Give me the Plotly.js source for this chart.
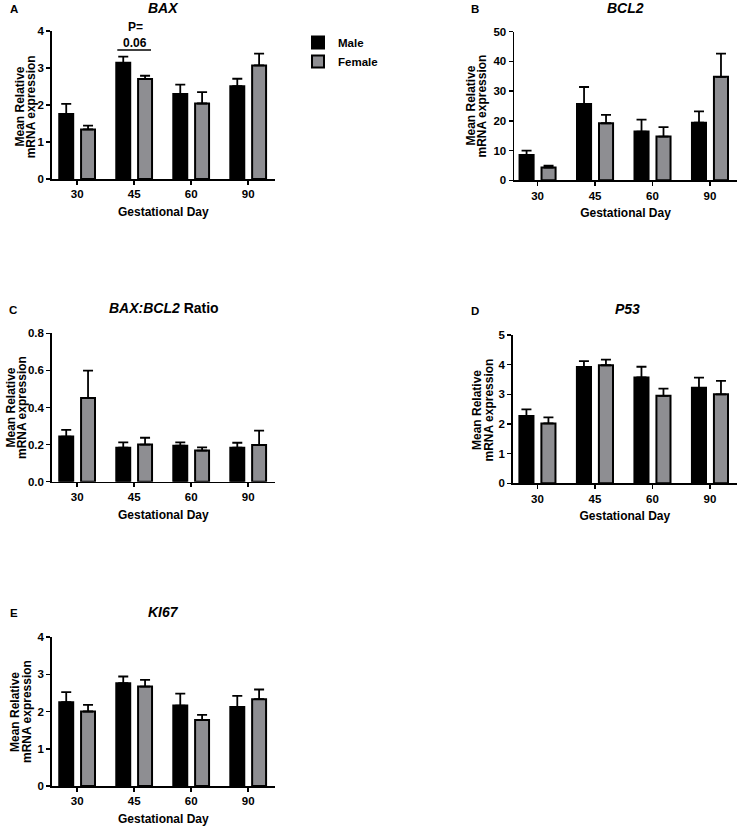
<!DOCTYPE html>
<html>
<head>
<meta charset="utf-8">
<script src="https://cdn.plot.ly/plotly-3.0.1.min.js"></script>
<style>html,body{margin:0;padding:0;background:#fff;}#chart{width:738px;height:827px;}</style>
</head>
<body>
<div id="chart"></div>
<script>
// ---------- data ----------
const days = ['30', '45', '60', '90'];

const baxMale = [1.76, 3.14, 2.30, 2.51];
const baxMaleSem = [0.27, 0.17, 0.25, 0.20];
const baxFemale = [1.34, 2.70, 2.04, 3.07];
const baxFemaleSem = [0.10, 0.09, 0.31, 0.32];

const bcl2Male = [8.5, 25.7, 16.4, 19.4];
const bcl2MaleSem = [1.5, 5.7, 4.0, 3.8];
const bcl2Female = [4.3, 19.2, 14.7, 34.8];
const bcl2FemaleSem = [0.6, 2.8, 3.2, 7.8];

const ratioMale = [0.243, 0.183, 0.194, 0.183];
const ratioMaleSem = [0.036, 0.029, 0.018, 0.027];
const ratioFemale = [0.451, 0.200, 0.168, 0.198];
const ratioFemaleSem = [0.148, 0.037, 0.017, 0.077];

const p53Male = [2.27, 3.92, 3.57, 3.22];
const p53MaleSem = [0.22, 0.20, 0.36, 0.34];
const p53Female = [2.02, 3.98, 2.95, 3.00];
const p53FemaleSem = [0.20, 0.19, 0.24, 0.45];

const ki67Male = [2.25, 2.76, 2.16, 2.12];
const ki67MaleSem = [0.27, 0.18, 0.32, 0.30];
const ki67Female = [2.00, 2.67, 1.77, 2.33];
const ki67FemaleSem = [0.18, 0.18, 0.14, 0.26];

const seriesNames = ['Male', 'Female'];
const pValueText = ['P=', '0.06'];
const yTitleLines = ['Mean Relative', 'mRNA expression'];
const xTitle = 'Gestational Day';

// ---------- style ----------
const FONT = 'Liberation Sans, Arial, Helvetica, sans-serif';
const MALE_COLOR = '#000000';
const FEMALE_COLOR = '#8e8e92';
const W = 738, H = 827;

function errSpec(arr) {
  return {type: 'data', symmetric: false, array: arr, arrayminus: arr.map(() => 0),
          color: '#000', thickness: 1.8, width: 5, visible: true};
}
function pair(xa, ya, m, ms, f, fs, showLeg) {
  return [
    {type: 'bar', name: seriesNames[0], x: days, y: m, xaxis: xa, yaxis: ya,
     marker: {color: MALE_COLOR, line: {color: '#000', width: 2}},
     error_y: errSpec(ms), showlegend: showLeg, legendgroup: 'm', hoverinfo: 'skip'},
    {type: 'bar', name: seriesNames[1], x: days, y: f, xaxis: xa, yaxis: ya,
     marker: {color: FEMALE_COLOR, line: {color: '#000', width: 2}},
     error_y: errSpec(fs), showlegend: showLeg, legendgroup: 'f', hoverinfo: 'skip'}
  ];
}

const data = [].concat(
  pair('x', 'y', baxMale, baxMaleSem, baxFemale, baxFemaleSem, true),
  pair('x2', 'y2', bcl2Male, bcl2MaleSem, bcl2Female, bcl2FemaleSem, false),
  pair('x3', 'y3', ratioMale, ratioMaleSem, ratioFemale, ratioFemaleSem, false),
  pair('x4', 'y4', p53Male, p53MaleSem, p53Female, p53FemaleSem, false),
  pair('x5', 'y5', ki67Male, ki67MaleSem, ki67Female, ki67FemaleSem, false)
);

const px = v => v / W;
const py = v => 1 - v / H;

function xax(left, right, r, anchor) {
  return {
    type: 'category', domain: [px(left), px(right)], range: r, anchor: anchor,
    showline: true, linecolor: '#000', linewidth: 1.5, showgrid: false, zeroline: false,
    ticks: 'outside', ticklen: 4, tickwidth: 1.5, tickcolor: '#000',
    tickfont: {family: FONT, size: 11.5, color: '#000', weight: 'bold'},
    title: {text: xTitle, standoff: 8, font: {family: FONT, size: 12, color: '#000', weight: 'bold'}},
    fixedrange: true
  };
}
function yax(top, bottom, r, dt, fmt, anchor) {
  return {
    domain: [py(bottom), py(top)], range: r, dtick: dt, tick0: 0, tickformat: fmt, anchor: anchor,
    showline: true, linecolor: '#000', linewidth: 1.5, showgrid: false, zeroline: false,
    ticks: 'outside', ticklen: 4, tickwidth: 1.5, tickcolor: '#000',
    tickfont: {family: FONT, size: 11.5, color: '#000', weight: 'bold'},
    fixedrange: true
  };
}

function ann(x, y, text, size, extra) {
  return Object.assign({xref: 'paper', yref: 'paper', x: px(x), y: py(y), text: text,
    showarrow: false, xanchor: 'center', yanchor: 'middle',
    font: {family: FONT, size: size, color: '#000'}}, extra || {});
}
// rotated two-line y-axis title (line centres x1, x2; vertical centre y)
function yTitle(x1, x2, y) {
  return [
    ann(x1, y, '<b>' + yTitleLines[0] + '</b>', 12, {textangle: -90}),
    ann(x2, y, '<b>' + yTitleLines[1] + '</b>', 12, {textangle: -90})
  ];
}

const layout = {
  width: W, height: H,
  margin: {l: 0, r: 0, t: 0, b: 0},
  paper_bgcolor: '#fff', plot_bgcolor: '#fff',
  barmode: 'group', bargap: 0.235, bargroupgap: 0.36,
  font: {family: FONT, color: '#000'},
  showlegend: true,
  legend: {x: px(298), y: py(28), xanchor: 'left', yanchor: 'top',
           font: {family: FONT, size: 11.5, color: '#000', weight: 'bold'},
           bgcolor: 'rgba(0,0,0,0)', tracegroupgap: 0, itemclick: false},
  xaxis: xax(51.7, 275, [-0.446, 3.47], 'y'),
  yaxis: yax(31, 179, [0, 4], 1, null, 'x'),
  xaxis2: xax(514, 737, [-0.41, 3.47], 'y2'),
  yaxis2: yax(31.7, 180.3, [0, 50], 10, null, 'x2'),
  xaxis3: xax(51.7, 275, [-0.446, 3.47], 'y3'),
  yaxis3: yax(333.3, 481.7, [0, 0.8], 0.2, '.1f', 'x3'),
  xaxis4: xax(512.7, 737, [-0.43, 3.47], 'y4'),
  yaxis4: yax(335, 483.3, [0, 5], 1, null, 'x4'),
  xaxis5: xax(51.7, 275, [-0.446, 3.47], 'y5'),
  yaxis5: yax(637, 786, [0, 4], 1, null, 'x5'),
  annotations: [
    ann(14, 9, '<b>A</b>', 11.5),
    ann(163, 8, '<b><i>BAX</i></b>', 14),
    ann(475, 9, '<b>B</b>', 11.5),
    ann(625, 8, '<b><i>BCL2</i></b>', 14),
    ann(13, 310, '<b>C</b>', 11.5),
    ann(164, 308, '<b><i>BAX:BCL2</i> Ratio</b>', 14),
    ann(475, 311, '<b>D</b>', 11.5),
    ann(627.7, 309, '<b><i>P53</i></b>', 14),
    ann(14, 613, '<b>E</b>', 11.5),
    ann(163, 612, '<b><i>KI67</i></b>', 14),
    ann(135.5, 27, '<b>' + pValueText[0] + '</b>', 12),
    ann(135, 43, '<b>' + pValueText[1] + '</b>', 12)
  ].concat(
    yTitle(19.5, 31.3, 107),
    yTitle(470.5, 481.5, 106),
    yTitle(10.5, 22, 408),
    yTitle(477, 488.5, 410),
    yTitle(15, 27, 712)
  ),
  shapes: [
    {type: 'line', xref: 'paper', yref: 'paper', x0: px(117.3), x1: px(151), y0: py(50), y1: py(50),
     line: {color: '#000', width: 1.5}}
  ]
};

Plotly.newPlot('chart', data, layout, {displayModeBar: false, staticPlot: true});
</script>
</body>
</html>
